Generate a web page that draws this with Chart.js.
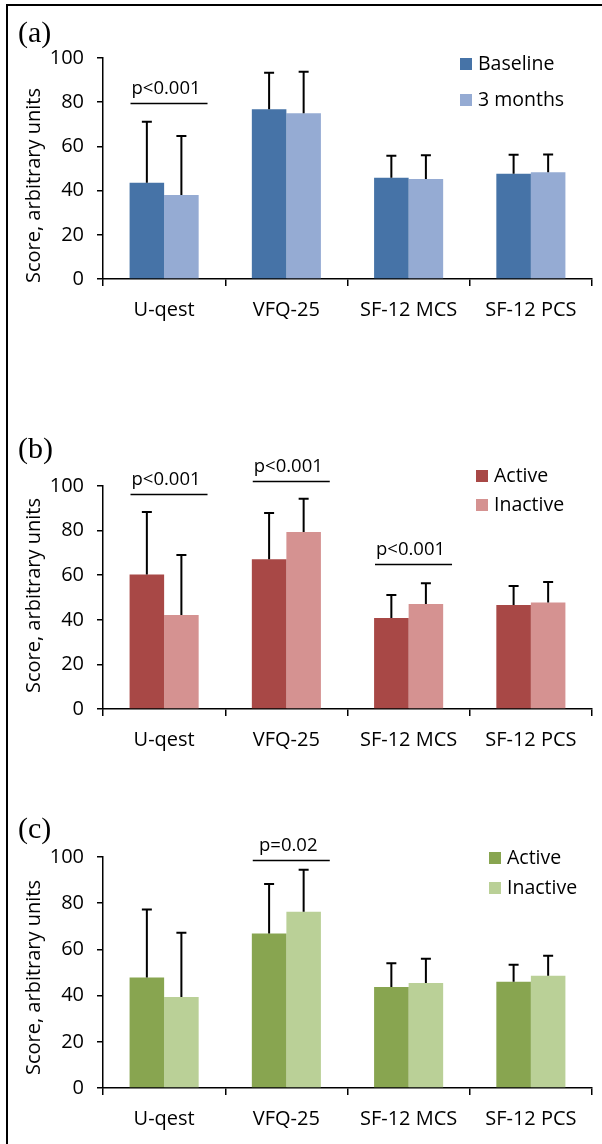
<!DOCTYPE html>
<html><head><meta charset="utf-8">
<script src="https://cdn.jsdelivr.net/npm/chart.js@4.4.0/dist/chart.umd.min.js"></script>
<style>
html,body{margin:0;padding:0;background:#fff;}
body{width:602px;height:1144px;position:relative;overflow:hidden;}
canvas{position:absolute;left:0;}
.frameT{position:absolute;left:6px;top:4px;width:596px;height:2px;background:#000;}
.frameL{position:absolute;left:6px;top:4px;width:2px;height:1140px;background:#000;}
</style></head><body>
<div class="frameT"></div><div class="frameL"></div>
<canvas id="ca" width="602" height="340" style="top:0px"></canvas>
<canvas id="cb" width="602" height="360" style="top:400px"></canvas>
<canvas id="cc" width="602" height="354" style="top:790px"></canvas>
<script>
const categories = ['U-qest', 'VFQ-25', 'SF-12 MCS', 'SF-12 PCS'];
const yTickValues = [0, 20, 40, 60, 80, 100];
const yTitle = 'Score, arbitrary units';

// Panel (a)
const aSeriesNames = ['Baseline', '3 months'];
const aBaseline = [43.6, 76.8, 45.8, 47.6];
const aBaselineSD = [27.6, 16.5, 10.0, 8.6];
const a3Months = [38.0, 75.0, 45.2, 48.3];
const a3MonthsSD = [26.7, 18.8, 10.8, 8.0];
const aSigCats = [0];
const aSigY = [79.6];
const aSigText = ['p<0.001'];

// Panel (b)
const bSeriesNames = ['Active', 'Inactive'];
const bActive = [60.3, 67.1, 40.8, 46.6];
const bActiveSD = [28.0, 20.8, 10.3, 8.6];
const bInactive = [42.2, 79.4, 47.1, 47.8];
const bInactiveSD = [26.9, 14.9, 9.3, 9.2];
const bSigCats = [0, 1, 2];
const bSigY = [96.6, 102.2, 64.8];
const bSigText = ['p<0.001', 'p<0.001', 'p<0.001'];

// Panel (c)
const cSeriesNames = ['Active', 'Inactive'];
const cActive = [47.8, 66.9, 43.7, 46.0];
const cActiveSD = [29.5, 21.4, 10.3, 7.4];
const cInactive = [39.4, 76.3, 45.5, 48.6];
const cInactiveSD = [27.8, 18.2, 10.4, 8.6];
const cSigCats = [1];
const cSigY = [98.9];
const cSigText = ['p=0.02'];

const FONT = '"Open Sans", "Noto Sans", sans-serif';

const overlay = {
  id: 'overlay',
  afterDatasetsDraw(chart) {
    const o = chart.config._config.overlay;
    const ctx = chart.ctx, xs = chart.scales.x, ys = chart.scales.y;
    ctx.save();
    // error bars (upper only)
    ctx.strokeStyle = '#000';
    ctx.lineWidth = 2;
    chart.data.datasets.forEach((ds, i) => {
      const meta = chart.getDatasetMeta(i);
      meta.data.forEach((bar, j) => {
        const base = ys.getPixelForValue(ds.data[j]);
        const top = ys.getPixelForValue(ds.data[j] + ds.sd[j]);
        ctx.beginPath();
        ctx.moveTo(bar.x, base);
        ctx.lineTo(bar.x, top);
        ctx.moveTo(bar.x - 5, top);
        ctx.lineTo(bar.x + 5, top);
        ctx.stroke();
      });
    });
    // significance lines
    const cw = xs.getPixelForValue(1) - xs.getPixelForValue(0);
    ctx.lineWidth = 1.6;
    ctx.fillStyle = '#000';
    ctx.font = '18.5px ' + FONT;
    ctx.textAlign = 'center';
    ctx.textBaseline = 'alphabetic';
    o.sigCats.forEach((c, k) => {
      const cx = xs.getPixelForValue(c);
      const x0 = cx - 0.275 * cw, x1 = cx + 0.355 * cw;
      const yy = Math.round(ys.getPixelForValue(o.sigY[k])) + 0.5;
      ctx.beginPath();
      ctx.moveTo(x0, yy);
      ctx.lineTo(x1, yy);
      ctx.stroke();
      ctx.fillText(o.sigText[k], (x0 + x1) / 2 - 3, yy - 10);
    });
    // legend
    ctx.textAlign = 'left';
    ctx.textBaseline = 'middle';
    ctx.font = '19.5px ' + FONT;
    chart.data.datasets.forEach((ds, i) => {
      const ly = o.legY + i * o.legGap;
      ctx.fillStyle = ds.backgroundColor;
      ctx.fillRect(o.legX, ly, 12, 12);
      ctx.fillStyle = '#000';
      ctx.fillText(ds.label, o.legX + 18, ly + 6);
    });
    // y title
    ctx.save();
    ctx.translate(34, (chart.chartArea.top + chart.chartArea.bottom) / 2 + o.titleShift);
    ctx.rotate(-Math.PI / 2);
    ctx.textAlign = 'center';
    ctx.textBaseline = 'middle';
    ctx.font = '20px ' + FONT;
    ctx.fillStyle = '#000';
    ctx.fillText(yTitle, 0, 0);
    ctx.restore();
    // panel label
    ctx.font = '30px "Liberation Serif", serif';
    ctx.fillStyle = '#000';
    ctx.textAlign = 'left';
    ctx.textBaseline = 'alphabetic';
    ctx.fillText(o.panel, 18, o.panelY);
    ctx.restore();
  }
};

function makeChart(id, names, vals, sds, colors, sig, lay) {
  const H = document.getElementById(id).height;
  return new Chart(document.getElementById(id), {
    type: 'bar',
    data: {
      labels: categories,
      datasets: names.map((n, i) => ({
        label: n, data: vals[i], sd: sds[i], backgroundColor: colors[i], borderWidth: 0
      }))
    },
    overlay: Object.assign({ sigCats: sig[0], sigY: sig[1], sigText: sig[2] }, lay),
    options: {
      responsive: false,
      animation: false,
      devicePixelRatio: 1,
      categoryPercentage: 0.565,
      barPercentage: 1.0,
      layout: { padding: { top: lay.top, right: 10, left: 0, bottom: 0 } },
      plugins: { legend: { display: false }, tooltip: { enabled: false } },
      scales: {
        x: {
          grid: { display: true, drawOnChartArea: false, drawTicks: true, tickLength: 7, color: '#000', lineWidth: 1.5, offset: true },
          border: { display: true, color: '#000', width: 1.5 },
          ticks: { font: { family: FONT, size: 20 }, color: '#000', padding: 12, maxRotation: 0, autoSkip: false },
          afterFit: s => { s.height = H - lay.bottom; }
        },
        y: {
          min: 0, max: 100,
          afterBuildTicks: s => { s.ticks = yTickValues.map(v => ({ value: v })); },
          grid: { display: true, drawOnChartArea: false, drawTicks: true, tickLength: 6, color: '#000', lineWidth: 1.5 },
          border: { display: true, color: '#000', width: 1.5 },
          ticks: { font: { family: FONT, size: 20 }, color: '#000', padding: 13 },
          afterFit: s => { s.width = 103; }
        }
      }
    },
    plugins: [overlay]
  });
}

makeChart('ca', aSeriesNames, [aBaseline, a3Months], [aBaselineSD, a3MonthsSD],
  ['#4673A7', '#95ABD3'], [aSigCats, aSigY, aSigText],
  { top: 58, bottom: 279, legX: 460, legY: 58, legGap: 36, titleShift: 17, panel: '(a)', panelY: 42 });
makeChart('cb', bSeriesNames, [bActive, bInactive], [bActiveSD, bInactiveSD],
  ['#A84846', '#D59291'], [bSigCats, bSigY, bSigText],
  { top: 86, bottom: 309, legX: 476, legY: 70, legGap: 29, titleShift: -2, panel: '(b)', panelY: 58 });
makeChart('cc', cSeriesNames, [cActive, cInactive], [cActiveSD, cInactiveSD],
  ['#88A550', '#BAD097'], [cSigCats, cSigY, cSigText],
  { top: 67, bottom: 298, legX: 489, legY: 62, legGap: 30, titleShift: 5, panel: '(c)', panelY: 48 });
</script>
</body></html>
